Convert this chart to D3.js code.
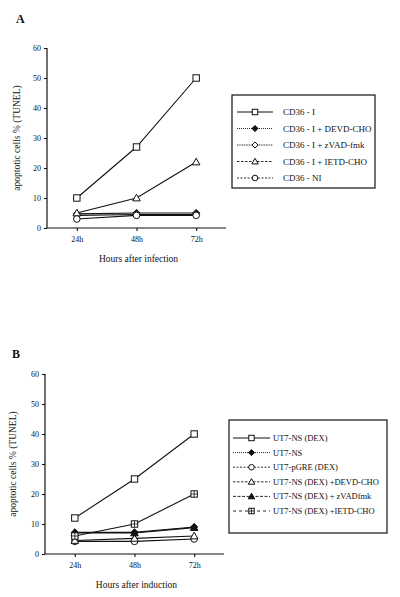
<!DOCTYPE html>
<html><head><meta charset="utf-8">
<script src="https://cdn.jsdelivr.net/npm/d3@7"></script>
<style>body{margin:0;background:#fff}svg{display:block}text{font-family:"Liberation Serif","DejaVu Serif",serif;fill:#111}</style>
</head><body><svg id="c" width="400" height="597"></svg>
<script>
const hours = ["24h","48h","72h"];
const yTicks = [0,10,20,30,40,50,60];

// Panel A
const seriesA = ["CD36 - I","CD36 - I + DEVD-CHO","CD36 - I + zVAD-fmk","CD36 - I + IETD-CHO","CD36 - NI"];
const valuesA = [[10,27,50],[4.7,5,5],[4.2,4.5,4.5],[5,10,22],[3,4.2,4.2]];
const markersA = ["square","diamondFilled","diamond","triangle","circle"];
const dashA = [null,"1,1","1,0.7","2.5,1.5","2,1.5"];

// Panel B
const seriesB = ["UT7-NS (DEX)","UT7-NS","UT7-pGRE (DEX)","UT7-NS (DEX) +DEVD-CHO","UT7-NS (DEX) + zVADfmk","UT7-NS (DEX) +IETD-CHO"];
const valuesB = [[12,25,40],[7.2,7.2,9],[4.2,4.2,5],[4.5,5.2,6],[7,7,8.8],[6,10,20]];
const markersB = ["square","diamondFilled","circle","triangle","triangleFilled","squarePlus"];
const dashB = [null,"1,1","2,1.5","2.5,1.5","3,1.5","3,3"];

const svg = d3.select("#c");

function marker(g, type, x, y, sc){
  sc = sc || 1;
  const s = 3.2*sc;
  if(type==="square"||type==="squarePlus"){
    g.append("rect").attr("x",x-s).attr("y",y-s).attr("width",2*s).attr("height",2*s)
      .attr("fill","#fff").attr("stroke","#111").attr("stroke-width",1);
    if(type==="squarePlus"){
      g.append("path").attr("d",`M${x-s},${y}H${x+s}M${x},${y-s}V${y+s}`).attr("stroke","#111").attr("stroke-width",0.8);
    }
  } else if(type==="diamond"||type==="diamondFilled"){
    const d=3.6*sc;
    g.append("path").attr("d",`M${x},${y-d}L${x+d},${y}L${x},${y+d}L${x-d},${y}Z`)
      .attr("fill",type==="diamondFilled"?"#111":"#fff").attr("stroke","#111").attr("stroke-width",1);
  } else if(type==="triangle"||type==="triangleFilled"){
    const d=3.8*sc;
    g.append("path").attr("d",`M${x},${y-d}L${x+d},${y+d*0.75}L${x-d},${y+d*0.75}Z`)
      .attr("fill",type==="triangleFilled"?"#111":"#fff").attr("stroke","#111").attr("stroke-width",1);
  } else if(type==="circle"){
    g.append("circle").attr("cx",x).attr("cy",y).attr("r",3.3*sc)
      .attr("fill","#fff").attr("stroke","#111").attr("stroke-width",1);
  }
}

function panel(cfg){
  const g = svg.append("g");
  const x = d3.scalePoint().domain(hours).range([cfg.x0,cfg.x1]).padding(0.5);
  const y = d3.scaleLinear().domain([0,60]).range([cfg.yb,cfg.yt]);
  const yAxis = d3.axisLeft(y).tickValues(yTicks).tickSize(3).tickPadding(3);
  const ya = g.append("g").attr("transform",`translate(${cfg.x0},0)`).call(yAxis);
  const xAxis = d3.axisBottom(x).tickSize(3).tickPadding(5);
  const xa = g.append("g").attr("transform",`translate(0,${cfg.yb})`).call(xAxis);
  [ya,xa].forEach(a=>{
    a.select(".domain").attr("stroke","#111").attr("stroke-width",1.2);
    a.selectAll(".tick line").attr("stroke","#111").attr("stroke-width",1.1);
    a.selectAll("text").attr("fill","#111").style("fill","#111")
      .style("font-family","Liberation Serif").style("font-size","8px");
  });
  ya.select(".domain").attr("d",`M0,${cfg.yb}V${cfg.yt}`);
  xa.select(".domain").attr("d",`M${cfg.x0},0H${cfg.x1}`);
  g.append("text").attr("x",cfg.lx).attr("y",cfg.ly).text(cfg.label)
    .style("font-size","12px").style("font-weight","bold");
  g.append("text").attr("transform",`translate(${cfg.ytx},${(cfg.yb+cfg.yt)/2}) rotate(-90)`)
    .attr("text-anchor","middle").style("font-size","9.5px").text("apoptotic cells % (TUNEL)");
  g.append("text").attr("x",(cfg.x0+cfg.x1)/2+2).attr("y",cfg.xty).attr("text-anchor","middle")
    .style("font-size","9.5px").text(cfg.xtitle);
  const line = d3.line().x((d,i)=>x(hours[i])).y(d=>y(d));
  cfg.values.forEach((vals,k)=>{
    g.append("path").attr("d",line(vals)).attr("fill","none").attr("stroke","#111").attr("stroke-width",1.1);
  });
  cfg.values.forEach((vals,k)=>{
    vals.forEach((v,i)=>marker(g,cfg.markers[k],x(hours[i]),y(v)));
  });
  const L = cfg.legend;
  g.append("rect").attr("x",L.x).attr("y",L.y).attr("width",L.w).attr("height",L.h)
    .attr("fill","#fff").attr("stroke","#111").attr("stroke-width",1.2);
  cfg.names.forEach((n,k)=>{
    const yy = L.r0 + k*L.dy;
    const ln = g.append("line").attr("x1",L.lx0).attr("x2",L.lx1).attr("y1",yy).attr("y2",yy)
      .attr("stroke","#111").attr("stroke-width",k===0?1.1:0.9);
    if(cfg.dash[k]) ln.attr("stroke-dasharray",cfg.dash[k]);
    marker(g,cfg.markers[k],(L.lx0+L.lx1)/2,yy,0.85);
    g.append("text").attr("x",L.tx).attr("y",yy+3).style("font-size",L.fs).text(n);
  });
}

panel({x0:47,x1:226,yt:48,yb:228,label:"A",lx:16,ly:23,ytx:20,xty:262,xtitle:"Hours after infection",
  values:valuesA,markers:markersA,names:seriesA,dash:dashA,
  legend:{x:232,y:95,w:143,h:93,r0:112,dy:16.5,lx0:237,lx1:273,tx:283,fs:"9px"}});
panel({x0:45,x1:224,yt:374,yb:554,label:"B",lx:12,ly:358,ytx:16,xty:588,xtitle:"Hours after induction",
  values:valuesB,markers:markersB,names:seriesB,dash:dashB,
  legend:{x:229,y:420,w:158,h:113,r0:438,dy:14.6,lx0:233,lx1:270,tx:273,fs:"8.5px"}});
</script></body></html>
